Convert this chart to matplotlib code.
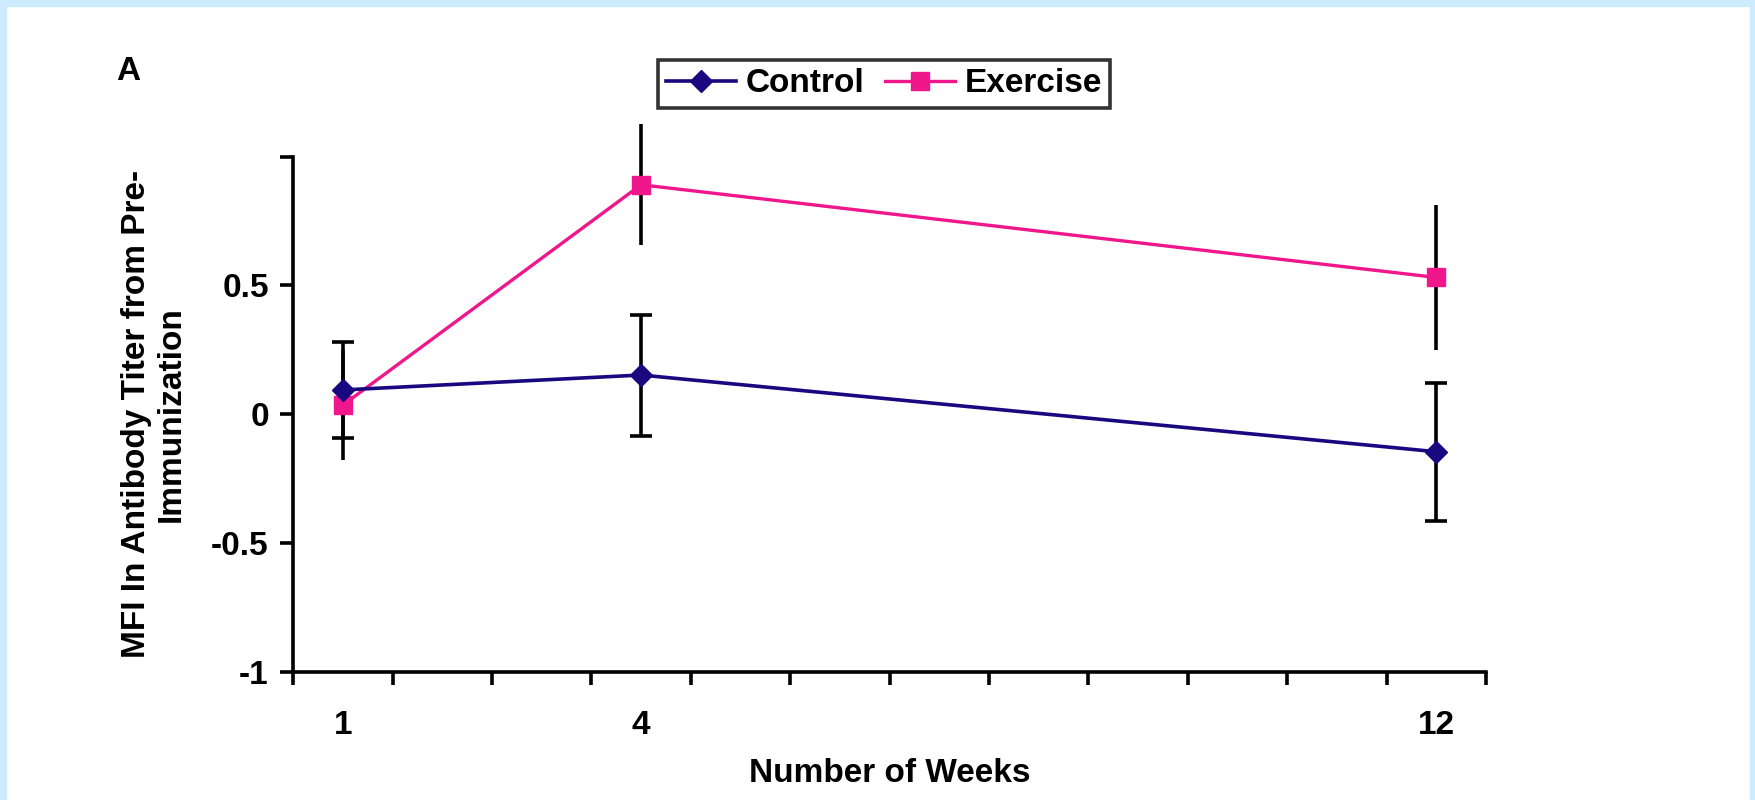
import matplotlib
matplotlib.use("Agg")
import matplotlib.pyplot as plt
from matplotlib.patches import Rectangle
import numpy as np

# antibody titer change, weeks after immunization
weeks = [1, 4, 12]
control_mean = [0.094, 0.152, -0.146]
control_err = [0.185, 0.235, 0.268]
exercise_mean = [0.035, 0.891, 0.531]
exercise_err = [0.213, 0.235, 0.281]

week_slots = list(range(1, 13))
week_labels = ["1", "", "", "4", "", "", "", "", "", "", "", "12"]
y_ticks = [-1, -0.5, 0, 0.5, 1]
y_ticklabels = ["-1", "-0.5", "0", "0.5", ""]

navy = "#1A0880"
pink = "#F0168C"

plt.rcParams["font.family"] = ["Liberation Sans", "DejaVu Sans"]
plt.rcParams["font.weight"] = "bold"

fig = plt.figure(figsize=(17.55, 8), dpi=100)
fig.patch.set_facecolor("white")

# light blue frame on left, top and right
frame_col = "#CCEBFF"
fig.patches.append(Rectangle((0, 0), 6 / 1755, 1, transform=fig.transFigure, color=frame_col, zorder=0))
fig.patches.append(Rectangle((0, 1 - 6 / 800), 1, 6 / 800, transform=fig.transFigure, color=frame_col, zorder=0))
fig.patches.append(Rectangle((1 - 5 / 1755, 0), 5 / 1755, 1, transform=fig.transFigure, color=frame_col, zorder=0))

ax = fig.add_axes([0.167, 0.1605, 0.6798, 0.6436])

ax.errorbar(weeks, control_mean, yerr=control_err, fmt="none", ecolor="black",
            elinewidth=2.6, capsize=8, capthick=2.6, zorder=2, clip_on=False)
ax.errorbar(weeks, exercise_mean, yerr=exercise_err, fmt="none", ecolor="black",
            elinewidth=2.6, capsize=0, zorder=2, clip_on=False)

ax.plot(weeks, control_mean, color=navy, lw=2.6, marker="D", markersize=11,
        markeredgecolor=navy, label="Control", zorder=4, clip_on=False)
ax.plot(weeks, exercise_mean, color=pink, lw=2.4, marker="s", markersize=13.5,
        markeredgecolor=pink, label="Exercise", zorder=3, clip_on=False)

ax.set_xlim(0.5, 12.5)
ax.set_ylim(-1, 1)

# tick marks between weeks, labels centred on each week
ax.set_xticks(np.arange(0.5, 13, 1))
ax.set_xticklabels([])
ax.set_xticks(week_slots, minor=True)
ax.set_xticklabels(week_labels, minor=True, fontsize=24)
ax.tick_params(axis="x", which="major", direction="out", length=9.5, width=2.6)
ax.tick_params(axis="x", which="minor", length=0, pad=28)

ax.set_yticks(y_ticks)
ax.set_yticklabels(y_ticklabels, fontsize=24)
ax.tick_params(axis="y", direction="out", length=9.5, width=2.6, pad=8)

for side in ["top", "right"]:
    ax.spines[side].set_visible(False)
for side in ["left", "bottom"]:
    ax.spines[side].set_linewidth(2.6)

ax.set_xlabel("Number of Weeks", fontsize=24, fontweight="bold", labelpad=12)
ax.set_ylabel("MFI In Antibody Titer from Pre-\nImmunization", fontsize=24,
              fontweight="bold", linespacing=1.15)
ax.yaxis.set_label_coords(-0.089, 0.5)

leg = fig.legend(loc="center", bbox_to_anchor=(0.5037, 0.895), ncol=2,
                 fontsize=24, frameon=True, fancybox=False, edgecolor="black",
                 handlelength=2.1, handletextpad=0.3, columnspacing=0.6,
                 borderpad=0.25, numpoints=1)
leg.get_frame().set_linewidth(2.6)

fig.text(0.073, 0.91, "A", fontsize=24, fontweight="bold", ha="center", va="center")

fig.savefig("out.png", dpi=100, facecolor="white")
